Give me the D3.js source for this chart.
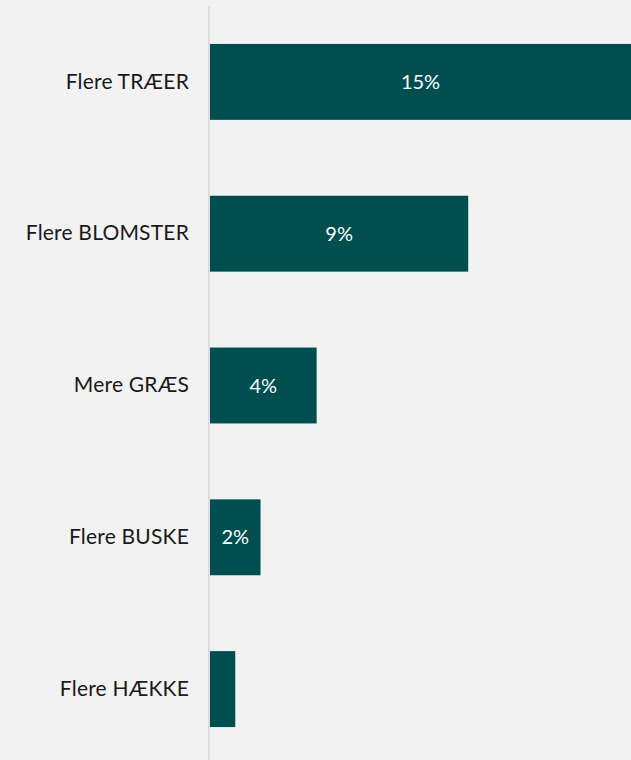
<!DOCTYPE html>
<html>
<head>
<meta charset="utf-8">
<script src="https://cdn.jsdelivr.net/npm/d3@7"></script>
<style>
  html, body { margin: 0; padding: 0; background: #f2f2f2; }
  svg { display: block; }
</style>
</head>
<body>
<svg id="chart" width="631" height="760"></svg>
<script>
// Share of respondents wishing for more of each kind of greenery
const categories = ["Flere TRÆER", "Flere BLOMSTER", "Mere GRÆS", "Flere BUSKE", "Flere HÆKKE"];
const values = [15.0, 9.2, 3.8, 1.8, 0.9];
// Values below this share get no label inside the bar
const labelMin = 1.5;

const width = 631, height = 760;
const margin = { left: 210, right: 0, top: 6, bottom: -5 };
const font = "Lato, 'Open Sans', sans-serif";

const svg = d3.select("#chart");
svg.append("rect").attr("width", width).attr("height", height).attr("fill", "#f2f2f2");

const x = d3.scaleLinear()
  .domain([0, 15])
  .range([margin.left, 631]);

const y = d3.scaleBand()
  .domain(categories)
  .range([margin.top, height - margin.bottom])
  .paddingInner(0.5)
  .paddingOuter(0.25);

const data = categories.map((c, i) => ({ cat: c, val: values[i] }));

// Category axis line
svg.append("line")
  .attr("x1", margin.left - 1).attr("x2", margin.left - 1)
  .attr("y1", margin.top).attr("y2", height)
  .attr("stroke", "#dcdcdc").attr("stroke-width", 2);

// Bars
svg.append("g").selectAll("rect")
  .data(data)
  .join("rect")
  .attr("x", x(0))
  .attr("y", d => y(d.cat))
  .attr("width", d => x(d.val) - x(0))
  .attr("height", y.bandwidth())
  .attr("fill", "#004f50");

// Category labels
const yAxis = d3.axisLeft(y).tickSize(0).tickPadding(21);
const gy = svg.append("g")
  .attr("transform", `translate(${margin.left},0)`)
  .call(yAxis);
gy.select(".domain").remove();
gy.selectAll("text")
  .attr("font-family", font)
  .attr("font-size", 21)
  .attr("font-weight", 400)
  .attr("letter-spacing", "0.2px")
  .attr("fill", "#1a1a1a");

// Value labels inside the bars
const fmt = v => d3.format(".0f")(v) + "%";
svg.append("g").selectAll("text")
  .data(data.filter(d => d.val >= labelMin))
  .join("text")
  .attr("x", d => (x(0) + Math.min(x(d.val), width)) / 2)
  .attr("y", d => y(d.cat) + y.bandwidth() / 2)
  .attr("dy", "0.35em")
  .attr("text-anchor", "middle")
  .attr("font-family", font)
  .attr("font-size", 20)
  .attr("font-weight", 400)
  .attr("fill", "#ffffff")
  .text(d => fmt(d.val));
</script>
</body>
</html>
